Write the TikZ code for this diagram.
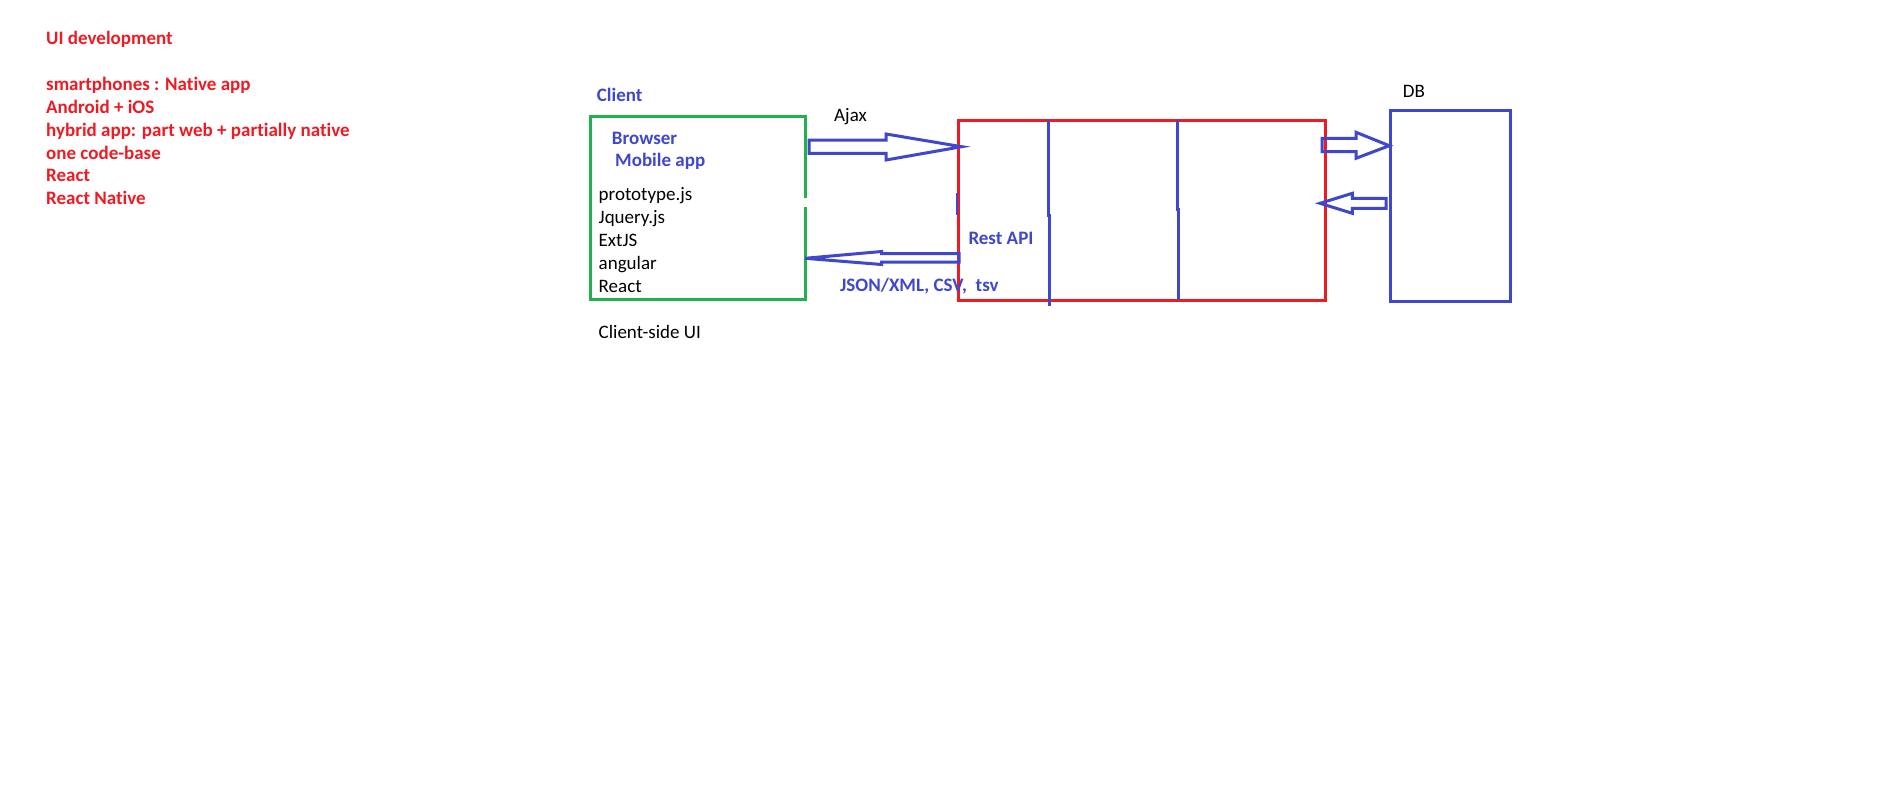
\documentclass[tikz,border=0pt]{standalone}
\usepackage{fontspec}
\setmainfont{Carlito}[Ligatures=NoCommon]
\definecolor{pred}{HTML}{ED1C24}
\definecolor{pgreen}{HTML}{22B14C}
\definecolor{pblue}{HTML}{3F48CC}
\begin{document}
\begin{tikzpicture}[x=1pt,y=-1pt,
  txt/.style={anchor=base west,inner sep=0pt,font=\fontsize{19}{23}\selectfont},
  redtxt/.style={txt,text=pred,font=\fontsize{19}{23}\selectfont\bfseries},
  bluetxt/.style={txt,text=pblue,font=\fontsize{19}{23}\selectfont\bfseries},
  boxline/.style={line width=3pt},
  fat/.style={draw=pblue,line width=3pt,line join=miter}]
\useasboundingbox[fill=white] (0,0) rectangle (1885,809);

% left notes
\node[redtxt] (n1) at (46,44) {UI development};
\node[redtxt] (n2) at (46,90.7) {smartphones : Native app};
\node[redtxt] (n3) at (46,113.5) {Android + iOS};
\node[redtxt] (n4) at (46,136.3) {hybrid app: part web + partially native};
\node[redtxt] (n5) at (46,159) {one code-base};
\node[redtxt] (n6) at (46,181.8) {React};
\node[redtxt] (n7) at (46,204.6) {React Native};

% client box
\coordinate (cNW) at (590.7,116.7);
\coordinate (cSE) at (805,299.3);
\draw[boxline,draw=pgreen] (805,198) -- (805,116.7) -- (590.7,116.7) -- (590.7,299.3) -- (805,299.3) -- (805,207);
\node[bluetxt] (client) at (596.7,101.7) {Client};
\node[bluetxt] (browser) at (611.7,144) {Browser};
\node[bluetxt] (mobile) at (615,166) {Mobile app};
\node[txt] (l1) at (598.5,200) {prototype.js};
\node[txt] (l2) at (598.5,223) {Jquery.js};
\node[txt] (l3) at (598.5,246) {ExtJS};
\node[txt] (l4) at (598.5,269) {angular};
\node[txt] (l5) at (598.5,292) {React};
\node[txt] (csui) at (598.5,338) {Client-side UI};

% server box
\node[boxline,draw=pred,inner sep=0pt,minimum width=366.7pt,minimum height=180.7pt] (server) at (1141.65,210.35) {};
\draw[boxline,draw=pblue] (1048.3,120) -- (1048.3,215) -- (1049.3,215) -- (1049.3,306);
\draw[boxline,draw=pblue] (1177.3,120) -- (1177.3,209.3) -- (1178.3,209.3) -- (1178.3,300);
\draw[line width=2pt,draw=pblue] (957.3,193.3) -- (957.3,215);
\node[bluetxt] (rest) at (968.3,244) {Rest API};

% DB box
\node[boxline,draw=pblue,inner sep=0pt,minimum width=120pt,minimum height=191pt] (db) at (1450,206.2) {};
\node[txt] (dbl) at (1402.7,97.3) {DB};

% arrows client <-> server
\draw[fat] (809,140) -- (886,140) -- (886,134) -- (961.7,146.7) -- (886,160) -- (886,153.3) -- (809,153.3) -- cycle;
\node[txt] (ajax) at (834,121.7) {Ajax};
\draw[fat] (959,253.5) -- (881.7,253.5) -- (881.7,251.5) -- (805,258.3) -- (881.7,264.5) -- (881.7,262) -- (959,262) -- cycle;
\node[bluetxt] (json) at (840,291.7) {JSON/XML, CSV,\ \ tsv};

% arrows server <-> DB
\draw[fat] (1322,138.3) -- (1356,138.3) -- (1356,132.3) -- (1389.3,145.7) -- (1356,158.3) -- (1356,151.7) -- (1322,151.7) -- cycle;
\draw[fat] (1386,198.3) -- (1352.3,198.3) -- (1352.3,193.3) -- (1320,203.3) -- (1352.3,213.3) -- (1352.3,208.3) -- (1386,208.3) -- cycle;
\end{tikzpicture}
\end{document}
